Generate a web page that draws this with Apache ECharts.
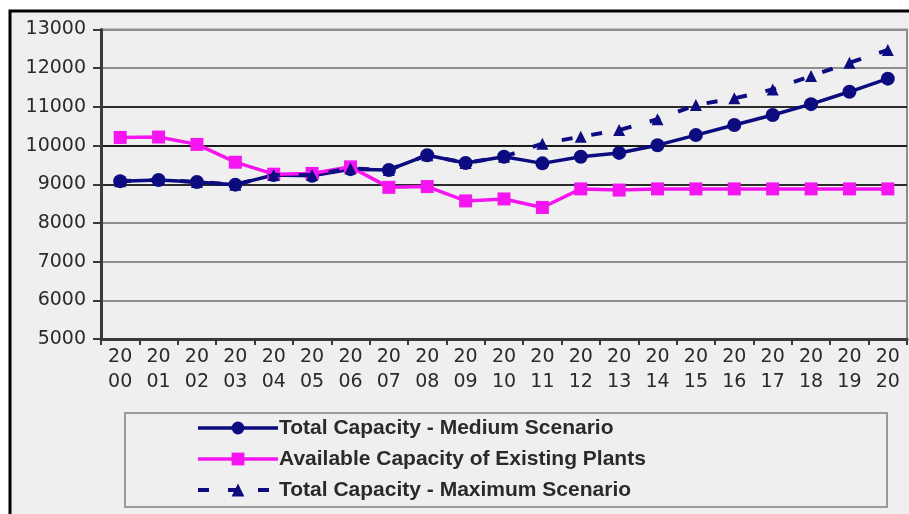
<!DOCTYPE html>
<html>
<head>
<meta charset="utf-8">
<script src="https://cdn.jsdelivr.net/npm/echarts@6/dist/echarts.min.js"></script>
<style>
  html, body { margin: 0; padding: 0; background: #ffffff; }
  #chart { width: 909px; height: 514px; }
</style>
</head>
<body>
<div id="chart"></div>
<script>
// Years on the category axis
const years = ['2000', '2001', '2002', '2003', '2004', '2005', '2006', '2007', '2008', '2009', '2010',
               '2011', '2012', '2013', '2014', '2015', '2016', '2017', '2018', '2019', '2020'];

// Capacity values (MW)
const mediumScenario = [9080, 9110, 9060, 8990, 9240, 9220, 9390, 9370, 9750, 9550, 9710,
                        9540, 9710, 9810, 10010, 10270, 10530, 10790, 11070, 11390, 11730];
const existingPlants = [10210, 10220, 10030, 9570, 9260, 9280, 9450, 8920, 8940, 8570, 8620,
                        8400, 8880, 8850, 8880, 8880, 8880, 8880, 8880, 8880, 8880];
const maximumScenario = [9080, 9110, 9060, 8990, 9240, 9240, 9410, 9370, 9750, 9550, 9710,
                         10050, 10230, 10400, 10680, 11050, 11220, 11450, 11800, 12140, 12470];

// Value axis range and step
const yMin = 5000, yMax = 13000, yStep = 1000;

const seriesNames = [
  'Total Capacity - Medium Scenario',
  'Available Capacity of Existing Plants',
  'Total Capacity - Maximum Scenario'
];

const NAVY = '#0c0c80';
const MAGENTA = '#f515f0';
const axisFont = 'DejaVu Sans';
const textFont = 'Liberation Sans';

const chart = echarts.init(document.getElementById('chart'), null, { renderer: 'canvas' });

chart.setOption({
  backgroundColor: '#ffffff',
  animation: false,
  graphic: [
    {
      type: 'rect', z: -100, silent: true,
      shape: { x: 10, y: 11, width: 1000, height: 1000 },
      style: { fill: '#efefef', stroke: '#000000', lineWidth: 3 }
    },
    {
      type: 'rect', z: -90, silent: true,
      shape: { x: 125, y: 413, width: 762, height: 94 },
      style: { fill: 'none', stroke: '#9a9a9a', lineWidth: 2 }
    }
  ],
  grid: {
    left: 101, right: 2, top: 29.5, bottom: 175,
    show: true, backgroundColor: 'transparent',
    borderColor: '#8e8e8e', borderWidth: 2
  },
  legend: {
    orient: 'vertical',
    left: 191, top: 411, height: 100,
    itemWidth: 80, itemHeight: 16, itemGap: 7,
    textStyle: {
      fontFamily: textFont, fontSize: 21, fontWeight: 'bold', color: '#2a2a2a',
      lineHeight: 24, padding: [0, 0, 0, -4]
    },
    data: [
      { name: seriesNames[0], lineStyle: { width: 3.5 } },
      { name: seriesNames[1], lineStyle: { width: 3.5 } },
      { name: seriesNames[2], lineStyle: { width: 4 } }
    ]
  },
  xAxis: {
    type: 'category',
    data: years,
    boundaryGap: true,
    axisLine: { lineStyle: { color: '#3a3a3a', width: 3 } },
    axisTick: { show: true, length: 6, interval: 0, lineStyle: { color: '#3a3a3a', width: 2 } },
    axisLabel: {
      interval: 0, margin: 6,
      fontFamily: axisFont, fontSize: 19, color: '#2a2a2a', lineHeight: 25,
      formatter: v => v.slice(0, 2) + '\n' + v.slice(2)
    },
    splitLine: { show: false }
  },
  yAxis: {
    type: 'value',
    min: yMin, max: yMax, interval: yStep,
    axisLine: { show: true, lineStyle: { color: '#3a3a3a', width: 3 } },
    axisTick: { show: true, length: 8, lineStyle: { color: '#3a3a3a', width: 2 } },
    axisLabel: {
      margin: 15, fontFamily: axisFont, fontSize: 19, color: '#2a2a2a',
      formatter: v => String(v)
    },
    splitLine: {
      show: true,
      lineStyle: {
        width: 2,
        color: ['#8e8e8e', '#8e8e8e', '#8e8e8e', '#8e8e8e', '#2c2c2c', '#1c1c1c', '#2c2c2c', '#8e8e8e', '#8e8e8e']
      }
    }
  },
  series: [
    {
      name: seriesNames[0],
      type: 'line',
      data: mediumScenario,
      symbol: 'circle', symbolSize: 14,
      lineStyle: { color: NAVY, width: 3.5 },
      itemStyle: { color: NAVY },
      z: 2
    },
    {
      name: seriesNames[1],
      type: 'line',
      data: existingPlants,
      symbol: 'rect', symbolSize: 13,
      lineStyle: { color: MAGENTA, width: 3.5 },
      itemStyle: { color: MAGENTA },
      z: 3
    },
    {
      name: seriesNames[2],
      type: 'line',
      data: maximumScenario,
      symbol: 'triangle', symbolSize: 12,
      lineStyle: { color: NAVY, width: 4, type: [11, 19] },
      itemStyle: { color: NAVY },
      z: 4
    }
  ]
});
</script>
</body>
</html>
